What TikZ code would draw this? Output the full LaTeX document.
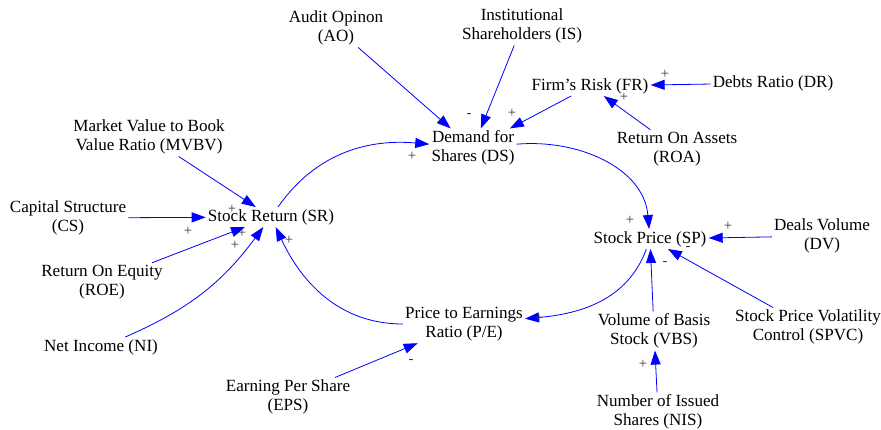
\documentclass[tikz,border=0pt]{standalone}
\usepackage{fontspec}
\setmainfont{Liberation Serif}
\usetikzlibrary{arrows.meta}
\begin{document}
\begin{tikzpicture}[x=0.75pt,y=0.75pt,
  var/.style={align=center, inner sep=1.5pt, font=\fontsize{12.8}{14.2}\selectfont, text=black},
  link/.style={draw=blue, line width=0.6pt, -{Triangle[length=10.5pt,width=7.5pt]}},
  pol/.style={font=\fontsize{11}{11}\selectfont, text=black!80, inner sep=0pt}]
\useasboundingbox (0,0) rectangle (881,-429);
% variables
\node[var] (AO) at (336,-28) {Audit Opinon\\(AO)};
\node[var] (IS) at (522,-26) {Institutional\\Shareholders (IS)};
\node[var] (FR) at (590,-86) {Firm’s Risk (FR)};
\node[var] (DR) at (773,-83) {Debts Ratio (DR)};
\node[var] (ROA) at (677,-149) {Return On Assets\\(ROA)};
\node[var] (DS) at (473,-148) {Demand for\\Shares (DS)};
\node[var] (SP) at (650,-239) {Stock Price (SP)};
\node[var] (DV) at (822,-236) {Deals Volume\\(DV)};
\node[var] (SPVC) at (808,-327) {Stock Price Volatility\\Control (SPVC)};
\node[var] (VBS) at (654,-331) {Volume of Basis\\Stock (VBS)};
\node[var] (NIS) at (658,-412) {Number of Issued\\Shares (NIS)};
\node[var] (PE) at (464,-324) {Price to Earnings\\Ratio (P/E)};
\node[var] (EPS) at (288,-397) {Earning Per Share\\(EPS)};
\node[var] (SR) at (271,-217) {Stock Return (SR)};
\node[var] (MVBV) at (149,-137) {Market Value to Book\\Value Ratio (MVBV)};
\node[var] (CS) at (68,-218) {Capital Structure\\(CS)};
\node[var] (ROE) at (102,-282) {Return On Equity\\(ROE)};
\node[var] (NI) at (101,-347) {Net Income (NI)};
% links
\draw[link] (AO) -- (DS);
\draw[link] (IS) -- (DS);
\draw[link] (FR) -- (DS);
\draw[link] (DR) -- (FR);
\draw[link] (ROA) -- (FR);
\draw[link] (DV) -- (SP);
\draw[link] (SPVC) -- (SP);
\draw[link] (VBS) -- (SP);
\draw[link] (NIS) -- (VBS);
\draw[link] (EPS) -- (PE);
\draw[link] (MVBV) -- (SR);
\draw[link] (CS) -- (SR);
\draw[link] (ROE) -- (SR);
\draw[link] (NI) to[bend right=15] (SR);
\draw[link] (SR) to[out=55,in=175] (DS);
\draw[link] (DS) to[out=5,in=95] (SP);
\draw[link] (SP) to[out=250,in=5] (PE);
\draw[link] (PE) to[out=180,in=-65] (SR);
% polarities
\node[pol] (p1) at (469,-115) {-};
\node[pol] (p2) at (512,-113) {+};
\node[pol] (p3) at (665,-74) {+};
\node[pol] (p4) at (624,-97) {+};
\node[pol] (p5) at (630,-220) {+};
\node[pol] (p6) at (728,-226) {+};
\node[pol] (p7) at (688,-248) {-};
\node[pol] (p8) at (665,-263) {-};
\node[pol] (p9) at (643,-364) {+};
\node[pol] (p10) at (539,-318) {+};
\node[pol] (p11) at (411,-361) {-};
\node[pol] (p12) at (289,-240) {+};
\node[pol] (p13) at (412,-156) {+};
\node[pol] (p14) at (232,-209) {+};
\node[pol] (p15) at (188,-231) {+};
\node[pol] (p16) at (242,-233) {+};
\node[pol] (p17) at (235,-245) {+};
\end{tikzpicture}
\end{document}
